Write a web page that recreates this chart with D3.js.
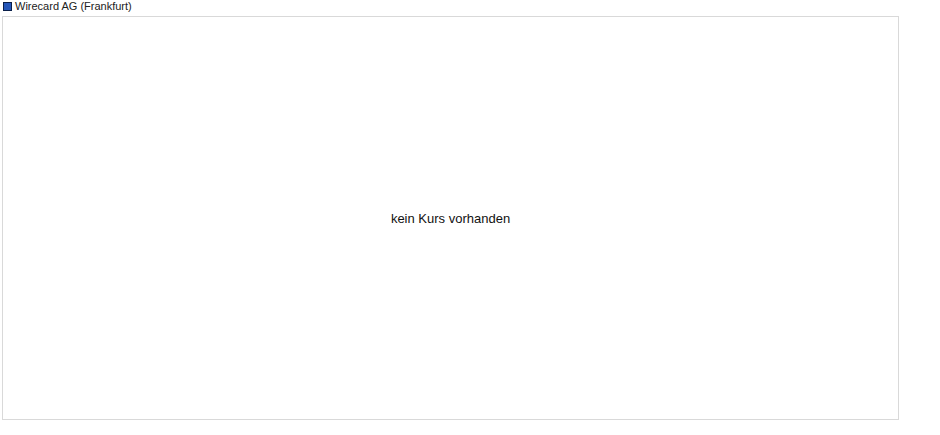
<!DOCTYPE html>
<html>
<head>
<meta charset="utf-8">
<script src="https://cdn.jsdelivr.net/npm/d3@7"></script>
<style>
  body { margin: 0; background: #fff; }
  text { font-family: "Liberation Sans", Arial, sans-serif; }
</style>
</head>
<body>
<div id="chart"></div>
<script>
// series shown in the legend, and the (empty) price data
var seriesNames = ["Wirecard AG (Frankfurt)"];
var seriesColors = ["#2455b8"];
var prices = [];
var emptyMessage = "kein Kurs vorhanden";

var width = 940, height = 435;
var plot = {left: 2.5, top: 16.5, right: 898.5, bottom: 419.5};

var svg = d3.select("#chart").append("svg")
    .attr("width", width)
    .attr("height", height);

// legend
var legend = svg.selectAll(".legend")
    .data(seriesNames)
  .enter().append("g")
    .attr("class", "legend")
    .attr("transform", function(d, i) { return "translate(3," + (2 + i * 14) + ")"; });

legend.append("rect")
    .attr("x", 0.5)
    .attr("y", 0.5)
    .attr("width", 8)
    .attr("height", 8)
    .style("fill", seriesColors[0])
    .style("stroke", "#0a1f4a")
    .style("stroke-width", 1);

legend.append("text")
    .attr("x", 12)
    .attr("y", 8)
    .style("font-size", "11px")
    .style("fill", "#222")
    .text(function(d) { return d; });

// plot frame
svg.append("rect")
    .attr("x", plot.left)
    .attr("y", plot.top)
    .attr("width", plot.right - plot.left)
    .attr("height", plot.bottom - plot.top)
    .style("fill", "#fff")
    .style("stroke", "#d9d9d9")
    .style("stroke-width", 1);

if (prices.length === 0) {
  svg.append("text")
      .attr("x", (plot.left + plot.right) / 2)
      .attr("y", (plot.top + plot.bottom) / 2 + 5)
      .attr("text-anchor", "middle")
      .style("font-size", "13px")
      .style("fill", "#111")
      .text(emptyMessage);
}
</script>
</body>
</html>
